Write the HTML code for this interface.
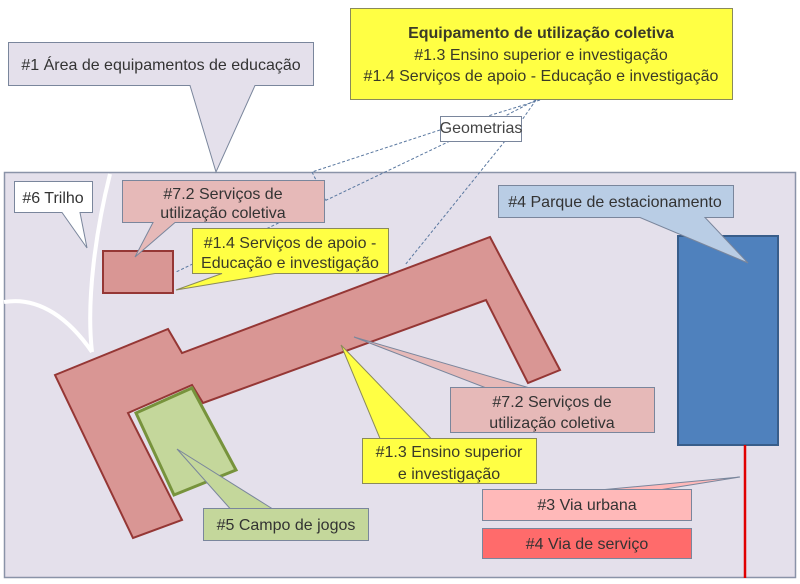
<!DOCTYPE html>
<html><head><meta charset="utf-8"><style>
html,body{margin:0;padding:0;background:#fff;}
svg{display:block;}
text{font-family:"Liberation Sans",sans-serif;font-size:16px;fill:#333;}
</style></head><body>
<svg width="800" height="584" viewBox="0 0 800 584" xmlns="http://www.w3.org/2000/svg">
<rect x="4.5" y="172.5" width="791" height="405" fill="#e4e0eb" stroke="#8a93a8" stroke-width="1.5"/>
<path d="M8.5,42.5 H313.5 V85.5 H255 L216,172 L190,85.5 H8.5 Z" fill="#e4e0eb" stroke="#7a869c" stroke-width="1"/>
<text x="161" y="70" text-anchor="middle">#1 Área de equipamentos de educação</text>
<rect x="350.5" y="8.5" width="382" height="91" fill="#ffff44" stroke="#8a8a5a" stroke-width="1"/>
<text x="541" y="38" text-anchor="middle" font-size="15" font-weight="bold" style="fill:#3a3a28">Equipamento de utilização coletiva</text>
<text x="541" y="60" text-anchor="middle" style="fill:#3a3a28">#1.3 Ensino superior e investigação</text>
<text x="541" y="81" text-anchor="middle" style="fill:#3a3a28">#1.4 Serviços de apoio - Educação e investigação</text>
<g stroke="#5a78a0" stroke-width="1" stroke-dasharray="3,2" fill="none">
<line x1="540" y1="100" x2="488" y2="116"/>
<line x1="536" y1="100" x2="505" y2="116"/>
<line x1="536" y1="100" x2="522" y2="120"/>
<line x1="440" y1="130" x2="312" y2="172"/>
<line x1="312" y1="172" x2="326" y2="200"/>
<line x1="450" y1="141" x2="176" y2="272"/>
<line x1="505" y1="141" x2="405" y2="265"/>
</g>
<rect x="440.5" y="116.5" width="81" height="25" fill="#fff" stroke="#7a869c"/>
<text x="481" y="133" text-anchor="middle" font-size="9.5" style="fill:#444">Geometrias</text>
<path d="M110,174 C96,230 86,300 92,352" stroke="#fff" stroke-width="4" fill="none"/>
<path d="M4,302 C40,296 70,320 92,352" stroke="#fff" stroke-width="4" fill="none"/>
<path d="M14.5,181.5 H92.5 V212.5 H80 L87,248 L62,212.5 H14.5 Z" fill="#fff" stroke="#7a869c"/>
<text x="53" y="203" text-anchor="middle">#6 Trilho</text>
<path d="M55,375 L168,329 L182,353 L490,237 L560,370 L528,383 L486,300 L203,403 L192,385 L128,413 L182,520 L133,538 Z" fill="#d99694" stroke="#953735" stroke-width="2"/>
<path d="M136,413 L192,388 L236,470 L174,495 Z" fill="#c4d79b" stroke="#77933c" stroke-width="3"/>
<rect x="103" y="251" width="70" height="42" fill="#d99694" stroke="#953735" stroke-width="2"/>
<path d="M122.5,180.5 H324.5 V222.5 H175 L135,257 L153,222.5 H122.5 Z" fill="#e6b9b8" stroke="#7a869c"/>
<text x="223" y="199" text-anchor="middle">#7.2 Serviços de</text>
<text x="223" y="218" text-anchor="middle">utilização coletiva</text>
<path d="M192.5,228.5 H388.5 V273.5 H275 L176,290 L222,273.5 H192.5 Z" fill="#ffff44" stroke="#8a8a5a"/>
<text x="290" y="248" text-anchor="middle" style="fill:#3a3a28">#1.4 Serviços de apoio -</text>
<text x="290" y="268" text-anchor="middle" style="fill:#3a3a28">Educação e investigação</text>
<rect x="678" y="236" width="100" height="209" fill="#4f81bd" stroke="#385d8a" stroke-width="2"/>
<line x1="745" y1="445" x2="745" y2="578" stroke="#e00000" stroke-width="2.5"/>
<path d="M498.5,185.5 H733.5 V217.5 H705 L748,263 L640,217.5 H498.5 Z" fill="#b9cde5" stroke="#7a869c"/>
<text x="615" y="207" text-anchor="middle">#4 Parque de estacionamento</text>
<path d="M450.5,387.5 H654.5 V432.5 H450.5 V387.5 H485 L354,337 L528,387.5" fill="#e6b9b8" stroke="#7a869c"/>
<text x="552" y="407" text-anchor="middle">#7.2 Serviços de</text>
<text x="552" y="428" text-anchor="middle">utilização coletiva</text>
<path d="M362.5,438.5 H536.5 V483.5 H362.5 V438.5 H380 L341,345 L431,438.5" fill="#ffff44" stroke="#8a8a5a"/>
<text x="449" y="457" text-anchor="middle" style="fill:#3a3a28">#1.3 Ensino superior</text>
<text x="449" y="479" text-anchor="middle" style="fill:#3a3a28">e investigação</text>
<path d="M203.5,508.5 H368.5 V540.5 H203.5 V508.5 H230 L177,449 L272,508.5" fill="#c4d79b" stroke="#7a869c"/>
<text x="286" y="530" text-anchor="middle">#5 Campo de jogos</text>
<path d="M482.5,489.5 H691.5 V520.5 H482.5 V489.5 H605 L740,477 L662,489.5" fill="#ffb9b9" stroke="#7a869c"/>
<text x="587" y="510" text-anchor="middle" font-size="17">#3 Via urbana</text>
<rect x="482.5" y="528.5" width="209" height="30" fill="#ff6b6b" stroke="#7a869c"/>
<text x="587" y="549" text-anchor="middle" font-size="17">#4 Via de serviço</text>
</svg>
</body></html>
